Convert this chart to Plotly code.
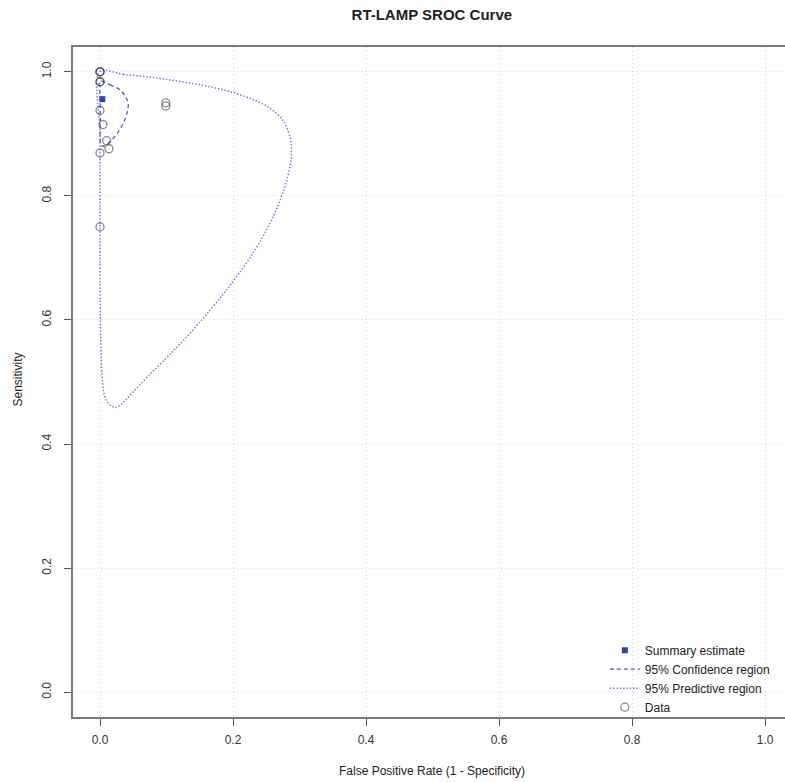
import plotly.graph_objects as go

# Study data (False positive rate, Sensitivity)
data_fpr = [0.0, 0.0, 0.0, 0.0, 0.0, 0.0, 0.0045, 0.010, 0.0135, 0.0, 0.0, 0.099, 0.099]
data_sens = [1.0, 1.0, 1.0, 0.984, 0.984, 0.9376, 0.915, 0.889, 0.876, 0.869, 0.75, 0.950, 0.945]

# Summary estimate
summary_fpr = [0.0035]
summary_sens = [0.956]

# 95% confidence region (traced)
conf_fpr = [0.0, 0.015, 0.030, 0.040, 0.0425, 0.040, 0.0325, 0.0225, 0.0125, 0.005, 0.0015, 0.0005, 0.0, 0.0]
conf_sens = [0.985, 0.979, 0.971, 0.957, 0.947, 0.931, 0.912, 0.896, 0.885, 0.880, 0.882, 0.920, 0.963, 0.985]

# 95% predictive region (traced)
pred_fpr = [0.0, 0.035, 0.085, 0.135, 0.185, 0.226, 0.256, 0.276, 0.286, 0.288, 0.287, 0.281,
            0.273, 0.2626, 0.248, 0.233, 0.2164, 0.200, 0.184, 0.153, 0.112, 0.072, 0.048,
            0.033, 0.024, 0.015, 0.0075, 0.004, 0.0015, 0.0005, 0.0, 0.0, 0.0]
pred_sens = [1.0, 0.996, 0.990, 0.982, 0.971, 0.957, 0.941, 0.920, 0.893, 0.870, 0.856, 0.826,
             0.799, 0.772, 0.740, 0.713, 0.686, 0.662, 0.640, 0.600, 0.552, 0.509, 0.482,
             0.465, 0.459, 0.463, 0.476, 0.498, 0.552, 0.605, 0.713, 0.90, 1.0]

tick_vals = [0.0, 0.2, 0.4, 0.6, 0.8, 1.0]
tick_text = ["0.0", "0.2", "0.4", "0.6", "0.8", "1.0"]

FONT = "Liberation Sans, Arial, Helvetica, sans-serif"

fig = go.Figure()

fig.add_trace(go.Scatter(
    x=summary_fpr, y=summary_sens, mode="markers", name="Summary estimate",
    marker=dict(symbol="square", size=6, color="#2f45b5", line=dict(width=0)),
))
fig.add_trace(go.Scatter(
    x=conf_fpr, y=conf_sens, mode="lines", name="95% Confidence region",
    line=dict(color="#4a5ccc", width=1.3, dash="4px,3px", shape="spline", smoothing=0.9),
))
fig.add_trace(go.Scatter(
    x=pred_fpr, y=pred_sens, mode="lines", name="95% Predictive region",
    line=dict(color="#7a7ae0", width=1.5, dash="1.5px,1.8px", shape="spline", smoothing=1.0),
))
fig.add_trace(go.Scatter(
    x=data_fpr, y=data_sens, mode="markers", name="Data",
    marker=dict(symbol="circle-open", size=8, color="rgba(70,70,80,0.65)",
                line=dict(width=1.3, color="rgba(70,70,80,0.65)")),
))

axis_common = dict(
    tickvals=tick_vals, ticktext=tick_text,
    showgrid=True, gridcolor="#d6d6d6", griddash="1px,3px", gridwidth=1,
    zeroline=False, showline=True, linecolor="#7a7a7a", linewidth=1.5,
    ticks="outside", ticklen=7, tickcolor="#555555", tickwidth=1,
    tickfont=dict(family=FONT, size=12, color="#333333"),
)

fig.update_layout(
    width=785, height=782,
    margin=dict(l=73, r=0, t=47, b=65),
    paper_bgcolor="white", plot_bgcolor="white",
    font=dict(family=FONT, size=12, color="#222222"),
    xaxis=dict(range=[-0.0406, 1.030], mirror=True, ticklabelstandoff=4, **axis_common),
    yaxis=dict(range=[-0.04, 1.04], mirror=False, tickangle=-90, ticklabelstandoff=8,
               **axis_common),
    showlegend=True,
    legend=dict(x=0.747, y=-0.007, xanchor="left", yanchor="bottom",
                bgcolor="rgba(0,0,0,0)", font=dict(family=FONT, size=12, color="#222222"),
                tracegroupgap=0, itemwidth=30),
    title=dict(text="<b>RT-LAMP SROC Curve</b>", x=0.504, xref="paper", xanchor="center",
               y=1 - 15 / 782, yref="container", yanchor="middle",
               font=dict(family=FONT, size=15, color="#222222")),
    annotations=[
        dict(text="False Positive Rate (1 - Specificity)", xref="paper", yref="paper",
             x=0.504, y=-0.081, xanchor="center", yanchor="middle", showarrow=False,
             font=dict(family=FONT, size=12, color="#222222")),
        dict(text="Sensitivity", xref="paper", yref="paper", textangle=-90,
             x=-0.077, y=0.504, xanchor="center", yanchor="middle", showarrow=False,
             font=dict(family=FONT, size=12, color="#222222")),
    ],
)

fig.write_html("out.html", config={"displayModeBar": False},
               post_script="document.body.style.margin='0';")
